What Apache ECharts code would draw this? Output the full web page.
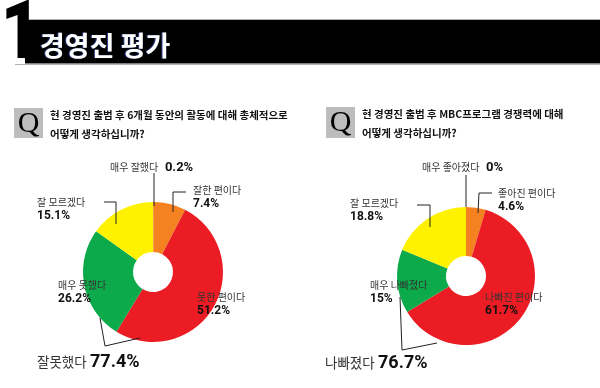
<!DOCTYPE html>
<html><head><meta charset="utf-8">
<script src="https://cdn.jsdelivr.net/npm/echarts@6/dist/echarts.min.js"></script>
<style>html,body{margin:0;padding:0;background:#fff}#c{width:600px;height:388px}</style>
</head><body><div id="c"></div>
<script>
const sectionNumber = '1';
const sectionTitle = '경영진 평가';
const question1 = ['현 경영진 출범 후 6개월 동안의 활동에 대해 총체적으로', '어떻게 생각하십니까?'];
const question2 = ['현 경영진 출범 후 MBC프로그램 경쟁력에 대해', '어떻게 생각하십니까?'];
const categories1 = ['매우 잘했다', '잘한 편이다', '못한 편이다', '매우 못했다', '잘 모르겠다'];
const values1 = [0.2, 7.4, 51.2, 26.2, 15.1];
const categories2 = ['매우 좋아졌다', '좋아진 편이다', '나빠진 편이다', '매우 나빠졌다', '잘 모르겠다'];
const values2 = [0, 4.6, 61.7, 15, 18.8];
const totalName1 = '잘못했다';
const totalName2 = '나빠졌다';
const negativeIdx = [2, 3];

const sliceColors = ['#F58220', '#F58220', '#EC1C24', '#0DAA4B', '#FFF200'];
const KR = '"Noto Sans CJK KR", "Noto Sans", sans-serif';
const NUM = 'Roboto, "DejaVu Sans", sans-serif';

// label top-left positions (layout only)
const labelPos = [
  [[110, 160], [193, 183.5], [197, 290.5], [58, 278.5], [37, 195.5]],
  [[422, 160], [498, 186.5], [485, 290.5], [370, 278.5], [350, 196.5]]
];

function buildData(cats, vals) {
  return cats.map((c, i) => ({ name: c, value: vals[i], itemStyle: { color: sliceColors[i] } }));
}
function fmt(p) {
  const v = p.value + '%';
  if (p.dataIndex === 0) return '{n|' + p.name + '}  {b|' + v + '}';
  return '{n|' + p.name + '}\n{v|' + v + '}';
}
const rich = {
  n: { fontSize: 10, fontFamily: KR, color: '#333', lineHeight: 13 },
  v: { fontSize: 12, fontWeight: 'bold', fontFamily: NUM, color: '#111', lineHeight: 15 },
  b: { fontSize: 13, fontWeight: 'bold', fontFamily: NUM, color: '#111', lineHeight: 15 }
};
function pieSeries(cats, vals, center, radius) {
  return {
    type: 'pie', center: center, radius: radius, startAngle: 90, clockwise: true,
    avoidLabelOverlap: false, silent: true,
    data: buildData(cats, vals),
    label: { show: true, formatter: fmt, rich: rich },
    labelLine: { show: false },
    labelLayout: function (params) {
      const p = labelPos[params.seriesIndex][params.dataIndex];
      return { x: p[0], y: p[1], align: 'left', verticalAlign: 'top' };
    },
    emphasis: { disabled: true }
  };
}
function sumNeg(vals) { return (negativeIdx.reduce((s, i) => s + vals[i], 0)).toFixed(1) + '%'; }

function txt(text, x, y, opts) {
  return {
    type: 'text', silent: true, z: 100,
    style: Object.assign({ text: text, x: x, y: y, fill: '#111', textAlign: 'left', textVerticalAlign: 'middle', align: 'left', verticalAlign: 'middle' }, opts)
  };
}
function line(pts, color) {
  return { type: 'polyline', silent: true, z: 100, shape: { points: pts }, style: { stroke: color || '#222', lineWidth: 1, fill: null } };
}

const graphics = [
  { type: 'rect', shape: { x: 25, y: 20, width: 575, height: 43.5 }, style: { fill: '#000' }, z: 2 },
  line([[25, 19.5], [600, 19.5]], '#b0b0b0'),
  line([[15, 64.5], [600, 64.5]], '#b0b0b0'),
  Object.assign(txt(sectionNumber, 1, 38, { fontSize: 81, fontWeight: 900, fontFamily: NUM, fill: '#000' }), { scaleX: 0.85, z: 150 }),
  txt(sectionTitle, 40, 46, { fontSize: 27, fontWeight: 'bold', fontFamily: KR, fill: '#fff', textShadowColor: 'rgba(80,120,255,0.6)', textShadowOffsetX: -1, textShadowBlur: 1 }),
  { type: 'rect', shape: { x: 14, y: 108, width: 29, height: 30 }, style: { fill: '#bdbdbd' } },
  txt('Q', 28.5, 124, { fontSize: 30, fontFamily: '"Liberation Serif", serif', textAlign: 'center', align: 'center', fill: '#000' }),
  txt(question1[0], 50, 115, { fontSize: 10.5, fontWeight: 'bold', fontFamily: KR }),
  txt(question1[1], 50, 134, { fontSize: 10.5, fontWeight: 'bold', fontFamily: KR }),
  { type: 'rect', shape: { x: 326, y: 107, width: 29, height: 31 }, style: { fill: '#bdbdbd' } },
  txt('Q', 340.5, 123.5, { fontSize: 30, fontFamily: '"Liberation Serif", serif', textAlign: 'center', align: 'center', fill: '#000' }),
  txt(question2[0], 362, 114, { fontSize: 10.5, fontWeight: 'bold', fontFamily: KR }),
  txt(question2[1], 362, 133, { fontSize: 10.5, fontWeight: 'bold', fontFamily: KR }),
  line([[154, 173], [154, 206]]),
  line([[186, 192], [173, 192], [173, 212]]),
  line([[104, 202], [116, 202], [116, 224]]),
  line([[100, 318], [105, 346], [140, 338]]),
  line([[466, 175], [466, 207]]),
  line([[492, 193], [479, 193], [478, 213]]),
  line([[417, 205], [430, 205], [430, 227]]),
  line([[400, 297], [402, 350], [437, 343]]),
  txt(totalName1, 37, 362, { fontSize: 13.5, fontFamily: KR, fill: '#333' }),
  txt(sumNeg(values1), 90, 362, { fontSize: 18, fontWeight: 'bold', fontFamily: NUM }),
  txt(totalName2, 325, 363, { fontSize: 13.5, fontFamily: KR, fill: '#333' }),
  txt(sumNeg(values2), 378, 363, { fontSize: 18, fontWeight: 'bold', fontFamily: NUM })
];

const chart = echarts.init(document.getElementById('c'), null, { renderer: 'canvas' });
chart.setOption({
  animation: false,
  backgroundColor: '#fff',
  series: [
    pieSeries(categories1, values1, [153, 272], [20, 70]),
    pieSeries(categories2, values2, [466, 276], [20, 69])
  ],
  graphic: graphics
});
</script></body></html>
